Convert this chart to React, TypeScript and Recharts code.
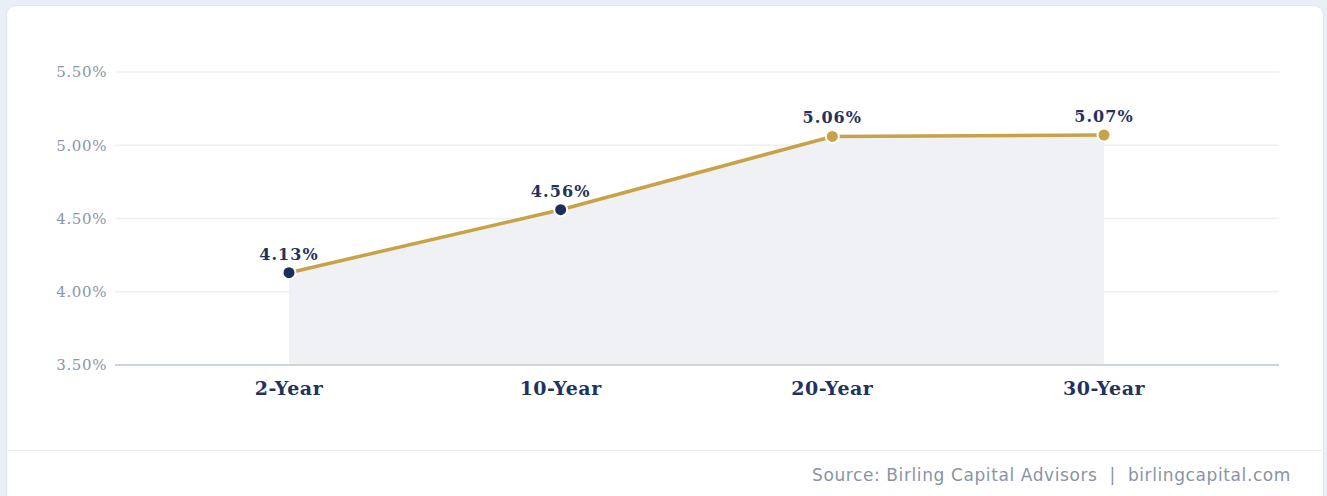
import React from 'react';
import {
  ComposedChart,
  Area,
  Line,
  XAxis,
  YAxis,
  CartesianGrid,
  LabelList,
} from 'recharts';

const categories = ['2-Year', '10-Year', '20-Year', '30-Year'];
const yields = [4.13, 4.56, 5.06, 5.07];
const yTicks = [3.5, 4.0, 4.5, 5.0, 5.5];

const data = categories.map((c, i) => ({ name: c, value: yields[i] }));

const NAVY = '#1c2f5c';
const GOLD = '#c7a246';

const renderDot = (props: any) => {
  const { cx, cy, index } = props;
  const fill = index < 2 ? NAVY : GOLD;
  return (
    <circle
      key={`dot-${index}`}
      cx={cx}
      cy={cy}
      r={6.5}
      fill={fill}
      stroke="#ffffff"
      strokeWidth={2}
    />
  );
};

const renderLabel = (props: any) => {
  const { x, y, value, index } = props;
  return (
    <text
      key={`lbl-${index}`}
      x={x}
      y={y - 13}
      textAnchor="middle"
      fill="#1f335e"
      fontFamily="DejaVu Serif"
      fontWeight="bold"
      fontSize={16}
      letterSpacing={1.1}
    >
      {`${Number(value).toFixed(2)}%`}
    </text>
  );
};

export default function App() {
  return (
    <div
      style={{
        position: 'fixed',
        left: 0,
        top: 0,
        width: 1327,
        height: 496,
        background: '#e9eef7',
        overflow: 'hidden',
      }}
    >
      <div
        style={{
          position: 'absolute',
          left: 6,
          top: 5,
          width: 1316,
          height: 520,
          background: '#ffffff',
          borderRadius: 10,
          border: '1px solid #dfe5ee',
        }}
      />
      <div style={{ position: 'absolute', left: 0, top: 0 }}>
        <ComposedChart
          width={1327}
          height={450}
          data={data}
          margin={{ top: 72, right: 48, bottom: 45, left: 0 }}
        >
          <CartesianGrid vertical={false} stroke="#eceff4" strokeWidth={1.5} />
          <XAxis
            dataKey="name"
            padding={{ left: 174, right: 175 }}
            axisLine={{ stroke: '#cdd3de', strokeWidth: 2 }}
            tickLine={false}
            tickSize={0}
            tickMargin={17}
            height={40}
            tick={{
              fill: '#1f335e',
              fontFamily: 'DejaVu Serif',
              fontWeight: 'bold',
              fontSize: 19,
              letterSpacing: 0.5,
            }}
          />
          <YAxis
            domain={[3.5, 5.5]}
            ticks={yTicks}
            width={115}
            axisLine={false}
            tickLine={false}
            tickSize={0}
            tickMargin={8}
            tickFormatter={(v: number) => `${v.toFixed(2)}%`}
            tick={{
              fill: '#8c95a7',
              fontFamily: 'DejaVu Serif',
              fontSize: 15,
              letterSpacing: 0.6,
            }}
          />
          <Area
            type="linear"
            dataKey="value"
            fill="#eff1f5"
            fillOpacity={1}
            stroke="none"
            isAnimationActive={false}
            dot={false}
            activeDot={false}
          />
          <Line
            type="linear"
            dataKey="value"
            stroke={GOLD}
            strokeWidth={3.5}
            dot={renderDot}
            activeDot={false}
            isAnimationActive={false}
          >
            <LabelList dataKey="value" content={renderLabel} />
          </Line>
        </ComposedChart>
      </div>
      <div
        style={{
          position: 'absolute',
          left: 6,
          top: 450,
          width: 1318,
          borderTop: '1px solid #eceff4',
        }}
      />
      <div
        style={{
          position: 'absolute',
          right: 36,
          top: 465,
          fontFamily: 'DejaVu Sans',
          fontSize: 17,
          letterSpacing: 0.6,
          color: '#8a93a5',
          whiteSpace: 'pre',
        }}
      >
        {'Source: Birling Capital Advisors  |  birlingcapital.com'}
      </div>
    </div>
  );
}
